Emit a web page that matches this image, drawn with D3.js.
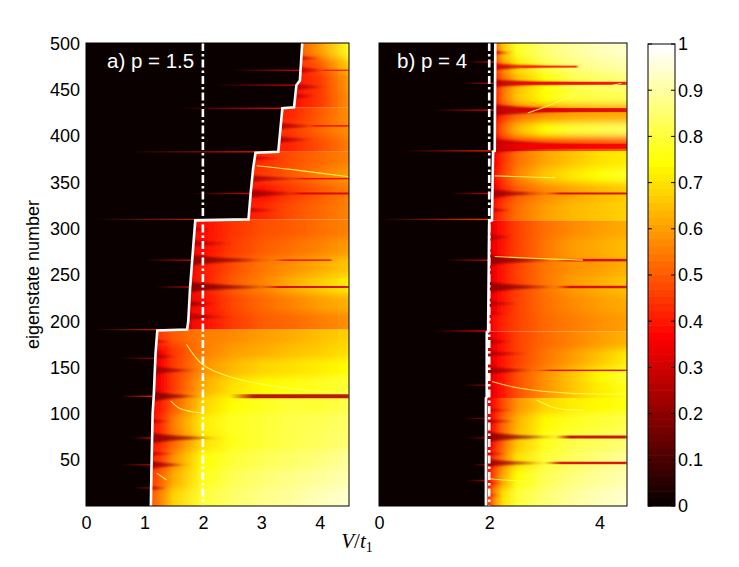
<!DOCTYPE html>
<html><head><meta charset="utf-8">
<script src="https://cdn.jsdelivr.net/npm/d3@7"></script>
<style>body{margin:0;background:#fff} svg{display:block}</style>
</head><body><svg id="c" width="739" height="567"></svg>
<script>
// ---------- DATA ----------
const stateTicks = [50,100,150,200,250,300,350,400,450,500];
const xTicksA = [0,1,2,3,4];
const xTicksB = [0,2,4];
const colorTicks = [0,0.1,0.2,0.3,0.4,0.5,0.6,0.7,0.8,0.9,1];
const dashLineV = 2;

// white boundary line [V, eigenstate]
const boundaryA = [[1.11,0.5],[1.12,40],[1.14,100],[1.16,120],[1.19,165],[1.22,190],[1.73,191],[1.75,200],[1.78,235],[1.81,260],[1.84,285],[1.87,309],[2.78,310],[2.82,340],[2.86,365],[2.90,382],[3.29,383],[3.33,410],[3.36,430],[3.56,431],[3.60,455],[3.66,460],[3.70,500.5]];
const boundaryB = [[1.94,0.5],[1.94,117],[1.955,118],[1.955,188],[1.98,189],[1.99,250],[2.0,308],[2.05,309],[2.07,383],[2.10,384],[2.11,500.5]];

// bands separated by sharp steps
const bandsA = [0.5,191,310,383,431,500.5];
const bandsB = [0.5,117,189,309,384,500.5];

// heat rows: eigenstate band edges, V sample positions, values (colour scale 0..1)
const edgesA = [0.5,20,40,60,80,100,120,140,160,176,191,210,230,250,270,290,310,330,350,366,383,400,415,431,450,470,485,500.5];
const stopsA = [1.0,1.25,1.5,2.0,2.5,3.0,3.5,4.0,4.5];
const heatA = [
 [0.45,0.55,0.68,0.80,0.85,0.88,0.90,0.93,0.95],
 [0.40,0.50,0.62,0.77,0.83,0.86,0.88,0.90,0.92],
 [0.38,0.45,0.58,0.75,0.80,0.83,0.85,0.87,0.90],
 [0.35,0.42,0.52,0.70,0.77,0.80,0.82,0.84,0.86],
 [0.35,0.42,0.55,0.72,0.78,0.80,0.82,0.83,0.85],
 [0.32,0.40,0.50,0.68,0.75,0.78,0.80,0.80,0.82],
 [0.28,0.35,0.45,0.62,0.70,0.74,0.76,0.78,0.80],
 [0.28,0.35,0.45,0.58,0.64,0.68,0.70,0.72,0.75],
 [0.28,0.35,0.45,0.55,0.60,0.62,0.65,0.67,0.70],
 [0.40,0.45,0.50,0.55,0.57,0.60,0.62,0.65,0.68],
 [0.30,0.30,0.30,0.38,0.45,0.50,0.52,0.55,0.58],
 [0.30,0.30,0.30,0.38,0.47,0.52,0.56,0.60,0.63],
 [0.30,0.30,0.30,0.40,0.50,0.56,0.62,0.67,0.72],
 [0.30,0.30,0.30,0.40,0.48,0.54,0.58,0.62,0.66],
 [0.30,0.30,0.30,0.38,0.45,0.50,0.53,0.56,0.60],
 [0.30,0.30,0.30,0.38,0.44,0.48,0.50,0.53,0.56],
 [0.40,0.40,0.40,0.40,0.40,0.42,0.48,0.52,0.56],
 [0.35,0.35,0.35,0.35,0.35,0.38,0.45,0.50,0.55],
 [0.42,0.42,0.42,0.42,0.42,0.45,0.50,0.55,0.60],
 [0.40,0.40,0.40,0.40,0.40,0.43,0.48,0.52,0.56],
 [0.40,0.40,0.40,0.40,0.40,0.40,0.42,0.48,0.55],
 [0.40,0.40,0.40,0.40,0.40,0.40,0.45,0.52,0.58],
 [0.40,0.40,0.40,0.40,0.40,0.40,0.42,0.50,0.58],
 [0.38,0.38,0.38,0.38,0.38,0.38,0.38,0.45,0.58],
 [0.38,0.38,0.38,0.38,0.38,0.38,0.38,0.45,0.60],
 [0.40,0.40,0.40,0.40,0.40,0.40,0.40,0.50,0.68],
 [0.45,0.45,0.45,0.45,0.45,0.45,0.45,0.60,0.78]
];
const edgesB = [0.5,20,40,60,80,100,117,135,150,170,189,210,230,250,270,290,309,330,350,366,384,400,415,435,450,470,485,500.5];
const stopsB = [1.9,2.0,2.1,2.25,2.5,3.0,3.5,4.0,4.5];
const heatB = [
 [0.40,0.45,0.58,0.70,0.80,0.86,0.90,0.93,0.95],
 [0.35,0.40,0.50,0.62,0.75,0.83,0.87,0.90,0.92],
 [0.35,0.38,0.46,0.56,0.70,0.80,0.84,0.87,0.90],
 [0.30,0.33,0.42,0.52,0.66,0.77,0.82,0.84,0.86],
 [0.30,0.33,0.42,0.52,0.63,0.74,0.78,0.80,0.82],
 [0.30,0.33,0.40,0.48,0.58,0.68,0.72,0.74,0.76],
 [0.30,0.30,0.35,0.40,0.48,0.58,0.66,0.72,0.76],
 [0.30,0.30,0.35,0.40,0.48,0.58,0.66,0.74,0.80],
 [0.30,0.30,0.35,0.40,0.46,0.54,0.60,0.66,0.72],
 [0.30,0.30,0.35,0.40,0.46,0.52,0.56,0.60,0.63],
 [0.35,0.35,0.38,0.42,0.46,0.52,0.55,0.58,0.60],
 [0.30,0.30,0.35,0.40,0.46,0.53,0.57,0.60,0.62],
 [0.30,0.30,0.35,0.40,0.46,0.54,0.60,0.63,0.66],
 [0.30,0.30,0.35,0.40,0.46,0.54,0.58,0.60,0.63],
 [0.30,0.30,0.35,0.40,0.46,0.54,0.60,0.62,0.65],
 [0.30,0.30,0.35,0.40,0.46,0.53,0.57,0.60,0.62],
 [0.35,0.35,0.40,0.46,0.53,0.60,0.64,0.66,0.68],
 [0.30,0.30,0.35,0.42,0.50,0.57,0.61,0.64,0.67],
 [0.30,0.30,0.38,0.46,0.56,0.66,0.71,0.75,0.78],
 [0.30,0.30,0.36,0.44,0.53,0.61,0.66,0.70,0.72],
 [0.25,0.25,0.30,0.35,0.40,0.45,0.47,0.48,0.50],
 [0.30,0.30,0.40,0.52,0.64,0.75,0.80,0.82,0.84],
 [0.28,0.28,0.35,0.44,0.52,0.58,0.61,0.62,0.62],
 [0.30,0.30,0.40,0.54,0.66,0.75,0.80,0.82,0.83],
 [0.30,0.30,0.40,0.52,0.64,0.75,0.82,0.85,0.87],
 [0.30,0.33,0.45,0.60,0.72,0.82,0.87,0.90,0.92],
 [0.35,0.38,0.50,0.66,0.78,0.86,0.90,0.93,0.95]
];

// dark spikes starting at the boundary: [eigenstate, half-height (states), V tip, value]
const spikesA = [[20,3,1.45,0.25],[45,5,1.85,0.22],[57,3,1.6,0.28],[74,6,2.45,0.2],[92,3,1.5,0.25],[119,6,2.1,0.18],[147,5,2.05,0.22],[162,4,1.6,0.25],[178,3,1.5,0.3],[205,4,2.6,0.25],[219,4,2.3,0.22],[237,6,3.5,0.18],[266,6,3.4,0.2],[284,4,2.6,0.25],[299,3,2.2,0.25],[320,3,3.4,0.28],[338,5,3.9,0.22],[354,4,4.0,0.25],[376,3,3.5,0.3],[396,4,4.0,0.25],[411,4,4.1,0.25],[443,4,4.0,0.28],[453,4,4.2,0.25],[471,4,4.2,0.28],[484,3,4.1,0.3]];
const spikesB = [[12,2,2.3,0.3],[25,2,2.35,0.3],[47,5,3.2,0.22],[57,3,2.4,0.28],[75,6,3.5,0.2],[92,3,2.6,0.25],[104,3,2.5,0.28],[147,5,3.0,0.22],[165,4,2.8,0.25],[178,4,2.5,0.25],[208,3,2.4,0.28],[219,4,2.6,0.25],[237,6,3.5,0.2],[266,6,3.5,0.2],[291,4,2.5,0.25],[320,3,2.5,0.28],[338,5,3.3,0.22],[389,8,4.6,0.28],[428,6,4.6,0.25],[457,4,4.6,0.25],[475,4,3.7,0.3],[490,3,2.5,0.3]];

// thin dark streak lines: [eigenstate, V start, V end, value, width px]
const linesA = [[119,2.45,4.5,0.25,4],[237,3.0,4.5,0.3,2],[338,3.5,4.5,0.3,2],[266,3.2,4.2,0.35,1.5],[354,3.5,4.5,0.35,1.5],[411,3.8,4.5,0.35,1.5],[471,4.0,4.5,0.4,1.5]];
const linesB = [[47,3.0,4.5,0.3,2.5],[75,3.2,4.5,0.28,3],[147,2.8,4.5,0.32,1.5],[237,3.2,4.5,0.3,2.5],[266,3.2,4.5,0.3,2.5],[338,3.0,4.5,0.3,2],[389,2.1,4.5,0.35,5],[428,2.1,4.5,0.32,4],[457,2.1,4.5,0.35,3],[475,2.4,3.6,0.4,2]];

// faint red lines inside the dark region: [eigenstate, V start, value]
const gapA = [[191,0.15,0.45],[119,0.6,0.4],[74,0.8,0.3],[45,0.6,0.25],[310,0.15,0.45],[266,1.0,0.3],[237,1.2,0.3],[338,1.8,0.3],[383,0.75,0.4],[430,1.6,0.35],[455,2.2,0.3],[471,2.5,0.3],[160,0.6,0.2],[20,0.8,0.2]];
const gapB = [[480,1.6,0.3],[457,1.5,0.3],[428,1.0,0.35],[384,0.45,0.4],[338,1.3,0.3],[310,0.05,0.45],[266,1.2,0.3],[189.5,1.0,0.35],[131,1.5,0.2],[95,1.5,0.2],[74,1.6,0.2],[45,1.7,0.2],[28,1.6,0.25]];

// thin bright curves: lists of [V, eigenstate]
const curvesA = [
 [[1.72,175],[2.0,153],[2.46,140],[3.32,129],[4.5,122]],
 [[1.45,114],[1.6,106],[1.85,102],[2.0,101]],
 [[1.21,36],[1.38,28.6]],
 [[2.92,368],[3.5,364],[4.5,356]]
];
const curvesB = [
 [[2.05,135],[2.56,127.6],[3.47,122.2],[4.5,121.5]],
 [[2.86,115],[3.22,106],[3.71,104.2]],
 [[2.0,30],[2.3,28.5],[2.7,27]],
 [[2.1,357],[2.6,356],[3.2,355]],
 [[2.7,425],[3.0,431],[3.5,443],[4.4,457]],
 [[2.1,270],[2.8,268],[3.7,266]]
];

// ---------- DRAWING ----------
const FONT = '"Liberation Sans", Arial, Helvetica, sans-serif';
function hot(v){
  v = Math.max(0, Math.min(1, v));
  const i = v*63 + 1, cl = t => Math.max(0, Math.min(1, t));
  return d3.rgb(255*cl(i/24), 255*cl((i-24)/24), 255*cl((i-48)/16)).formatHex();
}
const svg = d3.select('#c');
const defs = svg.append('defs');
function addBlur(id, sd){
  defs.append('filter').attr('id', id).attr('x', '-10%').attr('y', '-10%').attr('width', '120%').attr('height', '120%')
    .append('feGaussianBlur').attr('stdDeviation', sd);
}
addBlur('vblur', '0 3.5');
addBlur('sblur', '1.2 0.9');
addBlur('lblur', '0.8 0.5');
let gid = 0;
function grad(stops, user){
  const id = 'g' + (gid++);
  const g = defs.append('linearGradient').attr('id', id);
  if (user) g.attr('gradientUnits','userSpaceOnUse').attr('x1',user[0]).attr('x2',user[1]).attr('y1',0).attr('y2',0);
  else g.attr('x1',0).attr('x2',1).attr('y1',0).attr('y2',0);
  stops.forEach(s => g.append('stop').attr('offset', s[0]).attr('stop-color', s[1]).attr('stop-opacity', s[2] == null ? 1 : s[2]));
  return `url(#${id})`;
}
const y = d3.scaleLinear().domain([0.5, 500.5]).range([506, 43]);

function panel(cfg){
  const x = d3.scaleLinear().domain([0, 4.5]).range(cfg.range);
  const W = cfg.range[1] - cfg.range[0];
  const cid = 'clip' + cfg.name;
  defs.append('clipPath').attr('id', cid).append('rect').attr('x', cfg.range[0]).attr('y', 43).attr('width', W).attr('height', 463);
  const p = svg.append('g').attr('clip-path', `url(#${cid})`);
  const bnd = d3.scaleLinear().domain(cfg.boundary.map(d => d[1])).range(cfg.boundary.map(d => d[0]));
  const s0 = cfg.stops[0], s1 = cfg.stops[cfg.stops.length-1];

  // heat rows, grouped by band, softened vertically inside each band
  for (let b = 0; b < cfg.bands.length - 1; b++) {
    const lo = cfg.bands[b], hi = cfg.bands[b+1];
    const bid = `band${cfg.name}${b}`;
    defs.append('clipPath').attr('id', bid).append('rect')
      .attr('x', cfg.range[0]).attr('width', W).attr('y', y(hi)).attr('height', y(lo) - y(hi));
    const bg = p.append('g').attr('clip-path', `url(#${bid})`).append('g').attr('filter', 'url(#vblur)');
    cfg.heat.forEach((row, i) => {
      const n0 = cfg.edges[i], n1 = cfg.edges[i+1];
      if (n0 < lo || n1 > hi) return;
      const fill = grad(row.map((v, j) => [(cfg.stops[j]-s0)/(s1-s0), hot(v)]), [x(s0), x(s1)]);
      const top = n1 === hi ? y(n1) - 14 : y(n1) - 0.4;
      const bot = n0 === lo ? y(n0) + 14 : y(n0) + 0.4;
      bg.append('rect').attr('x', x(0)).attr('width', W).attr('y', top).attr('height', bot - top).attr('fill', fill);
    });
  }

  // spikes
  const sg = p.append('g').attr('filter', 'url(#sblur)');
  cfg.spikes.forEach(([n, hh, vt, val]) => {
    const xb1 = x(bnd(n-hh)), xb2 = x(bnd(n+hh)), xt = x(vt);
    const c = hot(val);
    const fill = grad([[0, c, 0.95], [0.5, c, 0.7], [1, c, 0]]);
    const k = 0.25;
    const d = `M${xb1-3},${y(n-hh)} Q${xb1+(xt-xb1)*k},${y(n-hh*k)} ${xt},${y(n)} Q${xb2+(xt-xb2)*k},${y(n+hh*k)} ${xb2-3},${y(n+hh)} Z`;
    sg.append('path').attr('d', d).attr('fill', fill);
  });

  // streak lines
  const lg = p.append('g').attr('filter', 'url(#lblur)');
  cfg.lines.forEach(([n, va, vb, val, w]) => {
    const c = hot(val);
    const fill = grad([[0, c, 0], [0.2, c, 0.9], [1, c, 0.9]]);
    lg.append('rect').attr('x', x(va)).attr('width', x(vb) - x(va)).attr('y', y(n) - w/2).attr('height', w).attr('fill', fill);
  });

  // bright curves
  const cl = d3.line().x(d => x(d[0])).y(d => y(d[1])).curve(d3.curveCatmullRom);
  cfg.curves.forEach(pts => {
    p.append('path').attr('d', cl(pts)).attr('fill', 'none').attr('stroke', hot(0.84)).attr('stroke-width', 1.1).attr('stroke-opacity', 0.85);
  });

  // dark region left of the boundary
  const region = [[0, 0.5], ...cfg.boundary, [0, 500.5]];
  const ln = d3.line().x(d => x(d[0])).y(d => y(d[1]));
  p.append('path').attr('d', ln(region) + 'Z').attr('fill', hot(0));

  // faint red lines in dark region
  cfg.gap.forEach(([n, va, val]) => {
    const c = hot(val);
    const xe = x(bnd(n));
    const fill = grad([[0, c, 0], [0.6, c, 0.6], [1, c, 1]]);
    p.append('rect').attr('x', x(va)).attr('width', Math.max(1, xe - x(va))).attr('y', y(n) - 0.7).attr('height', 1.4).attr('fill', fill);
  });

  // boundary white line
  p.append('path').attr('d', ln(cfg.boundary)).attr('fill', 'none').attr('stroke', '#fff').attr('stroke-width', 2.6);

  // dash-dot line
  p.append('line').attr('x1', x(dashLineV)).attr('x2', x(dashLineV)).attr('y1', y(500.5)).attr('y2', y(0.5))
    .attr('stroke', '#fff').attr('stroke-width', 2.6).attr('stroke-dasharray', '8,3,2.5,3');

  // panel label
  svg.append('text').attr('x', cfg.labelX).attr('y', 68).attr('fill', '#fff')
    .attr('font-family', FONT).attr('font-size', 20.5).text(cfg.label);

  // border
  svg.append('rect').attr('x', cfg.range[0]).attr('y', 43).attr('width', W).attr('height', 463)
    .attr('fill', 'none').attr('stroke', '#000').attr('stroke-width', 1);

  // x axis
  const ax = svg.append('g').attr('transform', 'translate(0,506)')
    .call(d3.axisBottom(x).tickValues(cfg.xticks).tickSize(0).tickPadding(10).tickFormat(d3.format('d')));
  ax.select('.domain').remove();
  ax.attr('font-size', 18).attr('font-family', FONT);
  ax.selectAll('text').attr('fill', '#000');
  return x;
}

panel({name:'A', range:[86,349], boundary:boundaryA, bands:bandsA, edges:edgesA, stops:stopsA, heat:heatA,
  spikes:spikesA, lines:linesA, gap:gapA, curves:curvesA, xticks:xTicksA, label:'a) p = 1.5', labelX:107});
panel({name:'B', range:[379,627], boundary:boundaryB, bands:bandsB, edges:edgesB, stops:stopsB, heat:heatB,
  spikes:spikesB, lines:linesB, gap:gapB, curves:curvesB, xticks:xTicksB, label:'b) p = 4', labelX:397});

// y axis
const ay = svg.append('g').attr('transform', 'translate(86,0)')
  .call(d3.axisLeft(y).tickValues(stateTicks).tickSize(0).tickPadding(6));
ay.select('.domain').remove();
ay.attr('font-size', 18).attr('font-family', FONT);
ay.selectAll('text').attr('fill', '#000');

svg.append('text').attr('transform', 'translate(39,274.5) rotate(-90)').attr('text-anchor', 'middle')
  .attr('font-family', FONT).attr('font-size', 18).text('eigenstate number');

// x label V/t1
const xl = svg.append('text').attr('x', 357).attr('y', 548).attr('text-anchor', 'middle')
  .attr('font-family', '"Liberation Serif", "Times New Roman", serif').attr('font-size', 21);
xl.append('tspan').attr('font-style', 'italic').text('V');
xl.append('tspan').text('/');
xl.append('tspan').attr('font-style', 'italic').text('t');
xl.append('tspan').attr('font-size', 14).attr('dy', 4).text('1');

// colorbar
const cb = d3.scaleLinear().domain([0, 1]).range([506, 44]);
const cbX0 = 648, cbX1 = 675;
const cmap = d3.range(64).map(i => i/63);
svg.append('g').selectAll('rect').data(cmap).join('rect')
  .attr('x', cbX0).attr('width', cbX1 - cbX0)
  .attr('y', (d, i) => cb((i+1)/64) - 0.3).attr('height', (d, i) => cb(i/64) - cb((i+1)/64) + 0.6)
  .attr('fill', d => hot(d));
svg.append('rect').attr('x', cbX0).attr('y', 44).attr('width', cbX1 - cbX0).attr('height', 462)
  .attr('fill', 'none').attr('stroke', '#000').attr('stroke-width', 1);
const cbt = svg.append('g');
colorTicks.forEach(t => {
  cbt.append('line').attr('x1', cbX0).attr('x2', cbX0 + 4).attr('y1', cb(t)).attr('y2', cb(t)).attr('stroke', '#000');
  cbt.append('line').attr('x1', cbX1 - 4).attr('x2', cbX1).attr('y1', cb(t)).attr('y2', cb(t)).attr('stroke', '#000');
  cbt.append('text').attr('x', cbX1 + 3).attr('y', cb(t)).attr('dy', '0.36em')
    .attr('font-family', FONT).attr('font-size', 18).text(String(+t.toFixed(1)));
});
</script></body></html>
